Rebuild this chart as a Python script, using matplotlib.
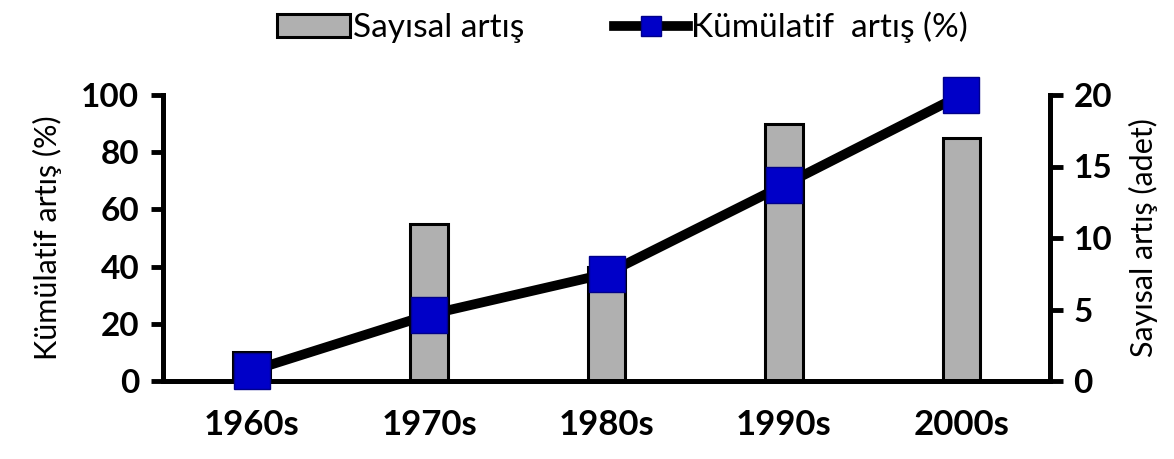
import matplotlib
matplotlib.use('Agg')
import matplotlib.pyplot as plt
import numpy as np

decades = ['1960s', '1970s', '1980s', '1990s', '2000s']
sayisal = [2, 11, 8, 18, 17]                  # adet (right axis)
kumulatif = [3.6, 23.2, 37.5, 68.5, 100.0]    # % (left axis)

plt.rcParams['font.family'] = ['Lato', 'DejaVu Sans']

fig = plt.figure(figsize=(11.74, 4.59), dpi=100)
ax = fig.add_axes([163/1174, 78/459, 887/1174, 286/459])
x = np.arange(len(decades))

# bars on right-hand scale
ax.bar(x, sayisal, width=0.21, color='#b0b0b0', edgecolor='black', linewidth=2.2,
       label='Sayısal artış', zorder=2)

# cumulative line on left-hand scale, drawn above the bars
ax2 = ax.twinx()
ax2.plot(x, kumulatif, color='black', linewidth=7, marker='s', markersize=26,
         markerfacecolor='#0000c8', markeredgecolor='#00008a', markeredgewidth=1,
         label='Kümülatif  artış (%)', clip_on=False, zorder=3)

ax.set_ylim(0, 20)
ax.set_xlim(-0.5, 4.5)
ax.yaxis.tick_right()
ax.yaxis.set_label_position('right')
ax.set_yticks([0, 5, 10, 15, 20])
ax.set_ylabel('Sayısal artış (adet)', fontsize=22, labelpad=12)

ax2.set_ylim(0, 100)
ax2.yaxis.tick_left()
ax2.yaxis.set_label_position('left')
ax2.set_yticks([0, 20, 40, 60, 80, 100])
ax2.set_ylabel('Kümülatif artış (%)', fontsize=22, labelpad=14)

for a in (ax, ax2):
    a.spines['top'].set_visible(False)
    for s in ('left', 'right', 'bottom'):
        a.spines[s].set_linewidth(3.5)
    a.tick_params(axis='y', direction='out', length=9, width=3.5, labelsize=24, pad=8)
    for lbl in a.get_yticklabels():
        lbl.set_fontweight('bold')

ax.set_xticks(x)
ax.set_xticklabels(decades, fontsize=25, fontweight='bold')
ax.tick_params(axis='x', length=0, pad=20)

h1, l1 = ax.get_legend_handles_labels()
h2, l2 = ax2.get_legend_handles_labels()
fig.legend(h1 + h2, l1 + l2, loc='upper center', bbox_to_anchor=(0.53, 1.04), ncol=2,
           frameon=False, fontsize=24, columnspacing=2.7, handlelength=2.2,
           handletextpad=0.1, markerscale=0.55)

plt.savefig('out.png', dpi=100)
